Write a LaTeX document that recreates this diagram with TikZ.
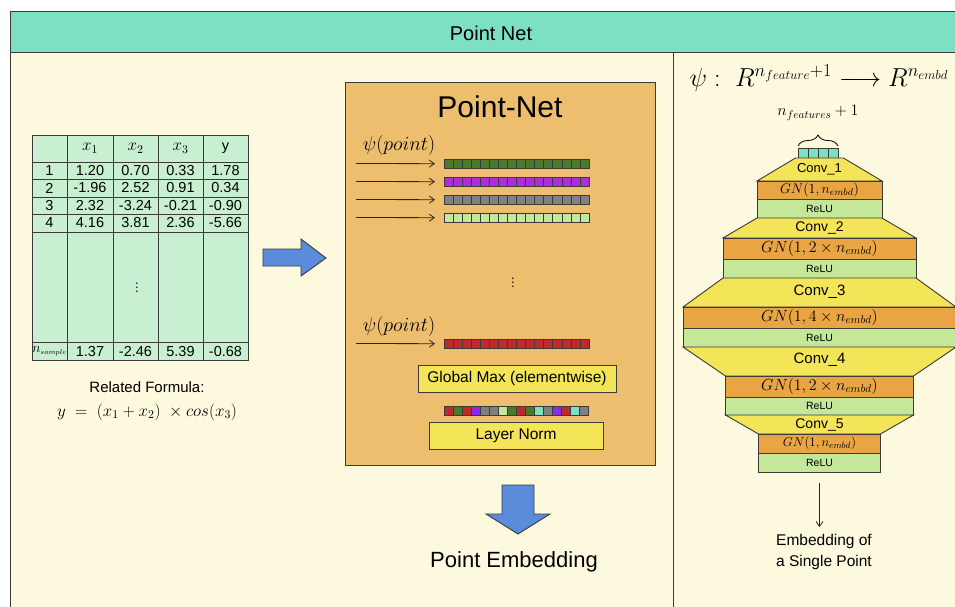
\RequirePackage{fix-cm}
\documentclass[tikz,border=0pt]{standalone}
\usepackage[no-math]{fontspec}
\setmainfont{Liberation Sans}
\usetikzlibrary{decorations.pathreplacing,arrows.meta}
\definecolor{hdr}{HTML}{7DDFC4}
\definecolor{cream}{HTML}{FDF9DF}
\definecolor{tbl}{HTML}{C8EFD2}
\definecolor{pnbox}{HTML}{EDBE6E}
\definecolor{ylw}{HTML}{F3E458}
\definecolor{org}{HTML}{E9A544}
\definecolor{lgr}{HTML}{C5E79A}
\definecolor{dgr}{HTML}{4A7A28}
\definecolor{prp}{HTML}{B02ED8}
\definecolor{vio}{HTML}{8A2BE8}
\definecolor{gry}{HTML}{808080}
\definecolor{rd}{HTML}{C0282A}
\definecolor{tl}{HTML}{7DDFC4}
\definecolor{blu}{HTML}{5B8BDB}
\definecolor{edge}{HTML}{3A3A3A}
\newcommand{\setfs}[1]{\fontsize{#1}{#1}\selectfont}
\tikzset{
  outl/.style={draw=edge, line width=0.9pt},
  txt/.style={inner sep=0pt, text=black},
  cellt/.style={txt, font=\setfs{14.5}},
  conn/.style={draw=black!85, line width=0.8pt, -{Straight Barb[length=5pt,width=7pt]}},
  ybox/.style={outl, fill=ylw, inner sep=0pt, font=\setfs{15.5}},
  gnb/.style={outl, fill=org, inner sep=0pt},
  relub/.style={outl, fill=lgr, inner sep=0pt, font=\setfs{10.5}},
  cellbox/.style={fill=#1, draw=edge, line width=0.6pt},
}
\begin{document}
\begin{tikzpicture}[x=1pt,y=-1pt]
\useasboundingbox (0,0) rectangle (955,606);
\fill[white] (0,0) rectangle (955,606);
% body and header
\fill[cream] (10,52) rectangle (962,612);
\draw[outl] (10,612) -- (10,52);
\filldraw[fill=hdr, outl] (10,11) rectangle (962,52);
\node[txt, font=\setfs{20}] (title) at (491,33) {Point Net};
\draw[outl] (673,52) -- (673,612);

% ---------- table ----------
\filldraw[fill=tbl, outl] (32,135) rectangle (248,360);
\foreach \xx in {67,113,158,203} \draw[outl] (\xx,135) -- (\xx,360);
\foreach \yy in {162,179,197,214,232,342} \draw[outl] (32,\yy) -- (248,\yy);
\node[txt, font=\setfs{17}] (h1) at (90,148.5) {$x_1$};
\node[txt, font=\setfs{17}] (h2) at (135.5,148.5) {$x_2$};
\node[txt, font=\setfs{17}] (h3) at (180.5,148.5) {$x_3$};
\node[cellt] (h4) at (225.5,148.5) {y};
\foreach \r/\yy/\a/\b/\c/\d/\e in {1/170.5/1/1.20/0.70/0.33/1.78, 2/188/2/-1.96/2.52/0.91/0.34, 3/205.5/3/2.32/-3.24/-0.21/-0.90, 4/223/4/4.16/3.81/2.36/-5.66}{
  \node[cellt] (c\r a) at (49.5,\yy) {\a};
  \node[cellt] (c\r b) at (90,\yy) {\b};
  \node[cellt] (c\r c) at (135.5,\yy) {\c};
  \node[cellt] (c\r d) at (180.5,\yy) {\d};
  \node[cellt] (c\r e) at (225.5,\yy) {\e};
}
\node[txt, font=\setfs{13}] (vd) at (137,285) {$\vdots$};
\node[txt, font=\setfs{14}] (c5a) at (49.5,351) {$n_{\scriptscriptstyle sample}$};
\node[cellt] (c5b) at (90,351) {1.37};
\node[cellt] (c5c) at (135.5,351) {-2.46};
\node[cellt] (c5d) at (180.5,351) {5.39};
\node[cellt] (c5e) at (225.5,351) {-0.68};
\node[txt, font=\setfs{15}] (rf) at (147,387) {Related Formula:};
\node[txt, font=\setfs{17}] (frm) at (147,412) {$y\;=\;(x_1+x_2)\;\times cos(x_3)$};

% ---------- blue right arrow ----------
\filldraw[fill=blu, outl] (263,249) -- (301,249) -- (301,239) -- (326,258) -- (301,276) -- (301,266) -- (263,266) -- cycle;

% ---------- Point-Net box ----------
\node[outl, fill=pnbox, minimum width=310, minimum height=383, anchor=north west, inner sep=0pt] (pnet) at (345,82) {};
\node[txt, font=\setfs{30}] (pntitle) at (500,107) {Point-Net};
\node[txt, font=\setfs{20}] (psi1) at (399,145) {$\psi(point)$};
\foreach \yy/\col [count=\k] in {159/dgr,177/prp,195/gry,213/lgr}{
  \node[inner sep=0pt, minimum width=145, minimum height=9, anchor=north west] (bar\k) at (444,\yy) {};
  \foreach \i in {0,...,15} \draw[cellbox=\col] ({444+\i*145/16},\yy) rectangle ++(145/16,9);
  \coordinate (src\k) at (356,\yy+4.5);
  \draw[conn, shorten >=9pt] (src\k) -- (bar\k.west);
}
\node[txt, font=\setfs{13}] (vd2) at (513,280) {$\vdots$};
\node[txt, font=\setfs{20}] (psi2) at (399,326) {$\psi(point)$};
\node[inner sep=0pt, minimum width=145, minimum height=9, anchor=north west] (barr) at (444,339) {};
\foreach \i in {0,...,15} \draw[cellbox=rd] ({444+\i*145/16},339) rectangle ++(145/16,9);
\coordinate (srcr) at (356,343.5);
\draw[conn, shorten >=9pt] (srcr) -- (barr.west);
\node[ybox, minimum width=198, minimum height=27] (gmax) at (517,378.5) {Global Max (elementwise)};
\node[inner sep=0pt, minimum width=144, minimum height=9, anchor=north west] (barm) at (444,406) {};
\foreach \col [count=\i from 0] in {rd,dgr,rd,vio,gry,gry,lgr,dgr,rd,dgr,tl,gry,vio,rd,tl,gry}
  \draw[cellbox=\col] ({444+\i*9},406) rectangle ++(9,9);
\node[ybox, minimum width=174, minimum height=27] (lnorm) at (516,435.5) {Layer Norm};

% ---------- down arrow ----------
\filldraw[fill=blu, outl] (502,485) -- (534,485) -- (534,514) -- (550,514) -- (518,534) -- (486,514) -- (502,514) -- cycle;
\node[txt, font=\setfs{22}] (pemb) at (514,562) {Point Embedding};

% ---------- right panel ----------
\node[txt, font=\setfs{26}] (psimap) at (819,78) {$\psi:\;R^{n_{feature}+1}\longrightarrow R^{n_{embd}}$};
\node[txt, font=\setfs{16}] (nfeat) at (818,113) {$n_{features}+1$};
\draw[line width=0.8pt, decorate, decoration={brace, amplitude=11pt}] (798,146) -- (838,146);
\foreach \i in {0,...,3} \draw[cellbox=tl] (798+\i*10,148) rectangle ++(10,10);

\filldraw[fill=ylw, outl] (795.5,158) -- (843.5,158) -- (882,181) -- (757,181) -- cycle;
\node[txt, font=\setfs{13}] (conv1) at (819.5,169.5) {Conv\_1};
\node[gnb, minimum width=125, minimum height=18, font=\setfs{14}] (gn1) at (819.5,190) {$GN(1,n_{embd})$};
\node[relub, minimum width=125, minimum height=19] (relu1) at (819.5,208.5) {ReLU};

\filldraw[fill=ylw, outl] (757,218) -- (882,218) -- (916,238) -- (723,238) -- cycle;
\node[txt, font=\setfs{14}] (conv2) at (819.5,228) {Conv\_2};
\node[gnb, minimum width=193, minimum height=21, font=\setfs{16}] (gn2) at (819.5,248.5) {$GN(1,2\times n_{embd})$};
\node[relub, minimum width=193, minimum height=19] (relu2) at (819.5,268.5) {ReLU};

\filldraw[fill=ylw, outl] (723,278) -- (916,278) -- (956,307) -- (683,307) -- cycle;
\node[txt, font=\setfs{15}] (conv3) at (819.5,292) {Conv\_3};
\node[gnb, minimum width=273, minimum height=21, font=\setfs{16}] (gn3) at (819.5,317.5) {$GN(1,4\times n_{embd})$};
\node[relub, minimum width=273, minimum height=19] (relu3) at (819.5,337.5) {ReLU};

\filldraw[fill=ylw, outl] (683,347) -- (956,347) -- (913.5,376) -- (725.5,376) -- cycle;
\node[txt, font=\setfs{15}] (conv4) at (819.5,360) {Conv\_4};
\node[gnb, minimum width=188, minimum height=21, font=\setfs{16}] (gn4) at (819.5,386.5) {$GN(1,2\times n_{embd})$};
\node[relub, minimum width=188, minimum height=18] (relu4) at (819.5,406) {ReLU};

\filldraw[fill=ylw, outl] (725.5,415) -- (913.5,415) -- (880.5,434) -- (758.5,434) -- cycle;
\node[txt, font=\setfs{14}] (conv5) at (819.5,424.5) {Conv\_5};
\node[gnb, minimum width=122, minimum height=19, font=\setfs{13}] (gn5) at (819.5,443.5) {$GN(1,n_{embd})$};
\node[relub, minimum width=122, minimum height=19] (relu5) at (819.5,462.5) {ReLU};

\node[txt, align=center, font=\fontsize{15.5}{21}\selectfont] (single) at (824,552) {Embedding of\\a Single Point};
\draw[conn, shorten <=11pt, shorten >=7pt] (relu5.south) -- (single.north -| relu5.south);
\end{tikzpicture}
\end{document}
